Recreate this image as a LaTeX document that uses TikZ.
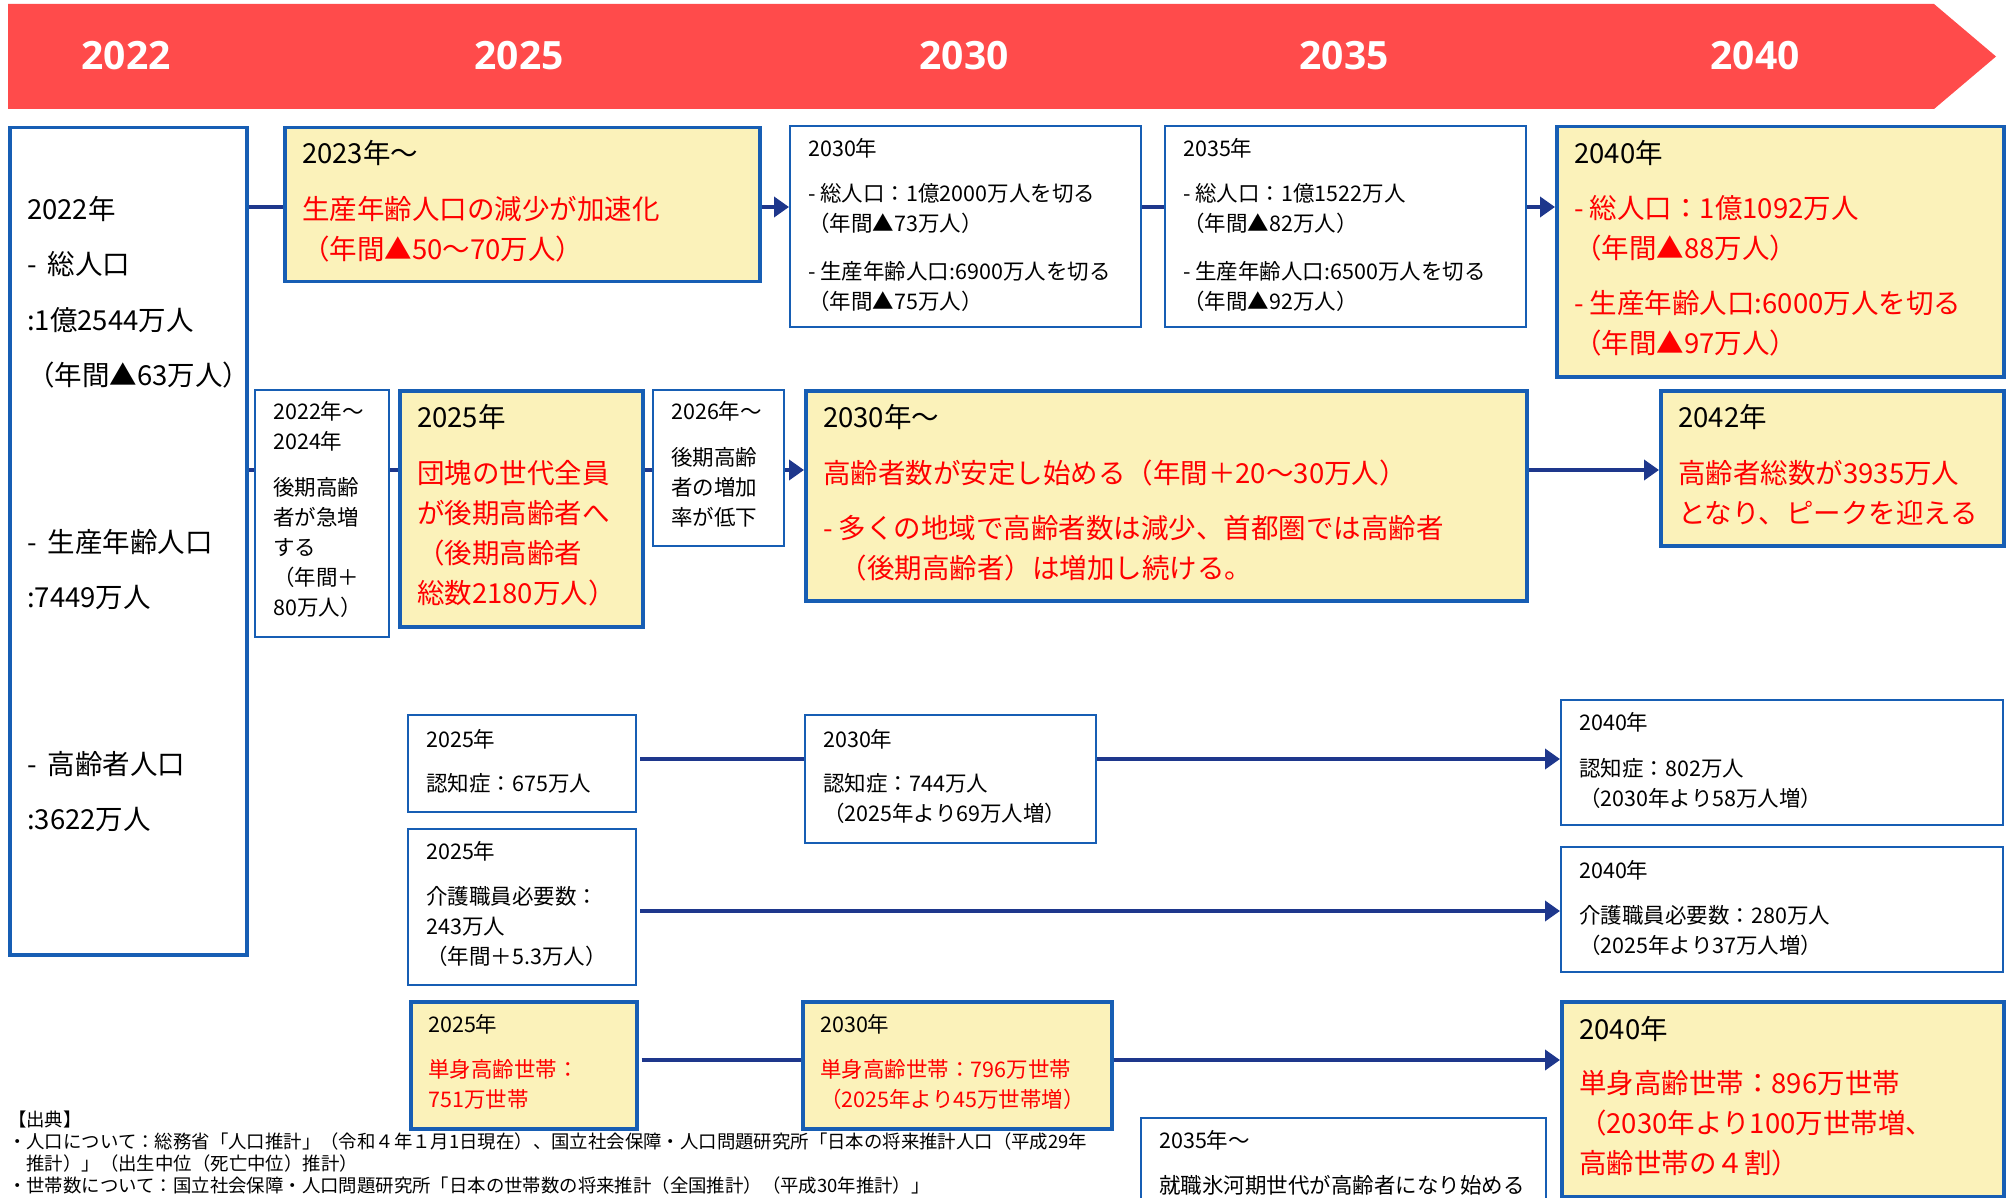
\documentclass[tikz,border=0pt]{standalone}
\usepackage{fontspec}
\setmainfont{Noto Sans CJK JP}
\newfontfamily\yrfont{Open Sans}
\usetikzlibrary{arrows.meta}
\definecolor{boxblue}{RGB}{23,94,180}
\definecolor{navy}{RGB}{30,55,140}
\definecolor{hdred}{RGB}{255,75,75}
\definecolor{ylw}{RGB}{251,242,186}
\definecolor{txtred}{RGB}{255,0,0}
\newcommand\smf{\fontsize{21.5}{30}\selectfont}
\newcommand\bgf{\fontsize{27.5}{40}\selectfont}
\begin{document}
\begin{tikzpicture}[x=1pt, y=-1pt,
	wbox/.style={draw=boxblue, line width=2pt, fill=white, inner sep=0pt, anchor=north west},
	ybox/.style={wbox, line width=3.5pt, fill=ylw},
	sm/.style={anchor=north west, inner sep=0pt, align=left, font=\smf},
	bg/.style={sm, font=\bgf},
	rd/.style={text=txtred},
	link/.style={draw=navy, line width=4pt},
	arr/.style={link, -{Triangle[length=15pt, width=20pt]}},
	year/.style={text=white, font=\yrfont\bfseries\fontsize{39}{39}\selectfont}]
\useasboundingbox (0,0) rectangle (2015,1198);
\clip (0,0) rectangle (2015,1198);

\fill[hdred] (8,4) -- (1934,4) -- (1996,56.5) -- (1934,109) -- (8,109) -- cycle;
\node[year] (y2022) at (126,56) {2022};
\node[year] (y2025) at (519,56) {2025};
\node[year] (y2030) at (964,56) {2030};
\node[year] (y2035) at (1344,56) {2035};
\node[year] (y2040) at (1755,56) {2040};

\node[wbox, line width=3.5pt, minimum width=237pt, minimum height=827pt] (b2022) at (8,126) {};
\node[ybox, minimum width=475pt, minimum height=154pt] (b2023) at (283,126) {};
\node[wbox, minimum width=351pt, minimum height=201pt] (b2030) at (789,125) {};
\node[wbox, minimum width=361pt, minimum height=201pt] (b2035) at (1164,125) {};
\node[ybox, minimum width=447pt, minimum height=250pt] (b2040) at (1555,125) {};
\node[wbox, minimum width=134pt, minimum height=247pt] (b2224) at (254,389) {};
\node[ybox, minimum width=243pt, minimum height=236pt] (b2025) at (398,389) {};
\node[wbox, minimum width=131pt, minimum height=156pt] (b2026) at (652,389) {};
\node[ybox, minimum width=721pt, minimum height=210pt] (b2030b) at (804,389) {};
\node[ybox, minimum width=343pt, minimum height=155pt] (b2042) at (1659,389) {};
\node[wbox, minimum width=228pt, minimum height=97pt] (d2025) at (407,714) {};
\node[wbox, minimum width=291pt, minimum height=128pt] (d2030) at (804,714) {};
\node[wbox, minimum width=442pt, minimum height=125pt] (d2040) at (1560,699) {};
\node[wbox, minimum width=228pt, minimum height=156pt] (k2025) at (407,828) {};
\node[wbox, minimum width=442pt, minimum height=125pt] (k2040) at (1560,846) {};
\node[ybox, minimum width=226pt, minimum height=127pt] (s2025) at (409,1000) {};
\node[ybox, minimum width=309pt, minimum height=127pt] (s2030) at (801,1000) {};
\node[ybox, minimum width=442pt, minimum height=195pt] (s2040) at (1560,1000) {};
\node[wbox, minimum width=405pt, minimum height=140pt] (h2035) at (1140,1117) {};

\node[sm, font=\fontsize{27.5}{55.5}\selectfont] (b2022-t) at ([shift={(19,70)}]b2022.north west)
	{2022年\\-\hspace{0.4em}総人口\\:1億2544万人\\（年間▲63万人）\\[111pt]-\hspace{0.4em}生産年齢人口\\:7449万人\\[111pt]-\hspace{0.4em}高齢者人口\\:3622万人};
\node[bg, rd] (b2023-t) at ([shift={(19,14)}]b2023.north west)
	{\textcolor{black}{2023年〜}\\[16pt]生産年齢人口の減少が加速化\\（年間▲50〜70万人）};
\node[sm] (b2030-t) at ([shift={(19,13)}]b2030.north west)
	{2030年\\[15pt]- 総人口：1億2000万人を切る\\（年間▲73万人）\\[18pt]- 生産年齢人口:6900万人を切る\\（年間▲75万人）};
\node[sm] (b2035-t) at ([shift={(19,13)}]b2035.north west)
	{2035年\\[15pt]- 総人口：1億1522万人\\（年間▲82万人）\\[18pt]- 生産年齢人口:6500万人を切る\\（年間▲92万人）};
\node[bg, rd] (b2040-t) at ([shift={(19,15)}]b2040.north west)
	{\textcolor{black}{2040年}\\[15pt]- 総人口：1億1092万人\\（年間▲88万人）\\[15pt]- 生産年齢人口:6000万人を切る\\（年間▲97万人）};
\node[sm] (b2224-t) at ([shift={(19,12)}]b2224.north west)
	{2022年〜\\2024年\\[16pt]後期高齢\\者が急増\\する\\（年間＋\\80万人）};
\node[bg, rd] (b2025-t) at ([shift={(19,15)}]b2025.north west)
	{\textcolor{black}{2025年}\\[16pt]団塊の世代全員\\が後期高齢者へ\\（後期高齢者\\総数2180万人）};
\node[sm] (b2026-t) at ([shift={(19,12)}]b2026.north west)
	{2026年〜\\[16pt]後期高齢\\者の増加\\率が低下};
\node[bg, rd] (b2030b-t) at ([shift={(19,15)}]b2030b.north west)
	{\textcolor{black}{2030年〜}\\[16pt]高齢者数が安定し始める（年間＋20〜30万人）\\[15pt]- 多くの地域で高齢者数は減少、首都圏では高齢者\\\hspace*{0.6em}（後期高齢者）は増加し続ける。};
\node[bg, rd] (b2042-t) at ([shift={(19,15)}]b2042.north west)
	{\textcolor{black}{2042年}\\[16pt]高齢者総数が3935万人\\となり、ピークを迎える};
\node[sm] (d2025-t) at ([shift={(19,15)}]d2025.north west)
	{2025年\\[14pt]認知症：675万人};
\node[sm] (d2030-t) at ([shift={(19,15)}]d2030.north west)
	{2030年\\[14pt]認知症：744万人\\（2025年より69万人増）};
\node[sm] (d2040-t) at ([shift={(19,13)}]d2040.north west)
	{2040年\\[16pt]認知症：802万人\\（2030年より58万人増）};
\node[sm] (k2025-t) at ([shift={(19,13)}]k2025.north west)
	{2025年\\[15pt]介護職員必要数：\\243万人\\（年間＋5.3万人）};
\node[sm] (k2040-t) at ([shift={(19,14)}]k2040.north west)
	{2040年\\[15pt]介護職員必要数：280万人\\（2025年より37万人増）};
\node[sm, rd] (s2025-t) at ([shift={(19,14)}]s2025.north west)
	{\textcolor{black}{2025年}\\[15pt]単身高齢世帯：\\751万世帯};
\node[sm, rd] (s2030-t) at ([shift={(19,14)}]s2030.north west)
	{\textcolor{black}{2030年}\\[15pt]単身高齢世帯：796万世帯\\（2025年より45万世帯増）};
\node[bg, rd] (s2040-t) at ([shift={(19,16)}]s2040.north west)
	{\textcolor{black}{2040年}\\[14pt]単身高齢世帯：896万世帯\\（2030年より100万世帯増、\\高齢世帯の４割）};
\node[sm] (h2035-t) at ([shift={(19,13)}]h2035.north west)
	{2035年〜\\[15pt]就職氷河期世代が高齢者になり始める};

\node[anchor=north west, inner sep=0pt, align=left, font=\fontsize{18.4}{22}\selectfont] (src) at (8,1111)
	{【出典】\\・人口について：総務省「人口推計」（令和４年１月1日現在）、国立社会保障・人口問題研究所「日本の将来推計人口（平成29年\\\hspace*{1em}推計）」（出生中位（死亡中位）推計）\\・世帯数について：国立社会保障・人口問題研究所「日本の世帯数の将来推計（全国推計）（平成30年推計）」};

\coordinate (r1) at (0,207);
\coordinate (r2) at (0,470);
\coordinate (r3) at (0,759);
\coordinate (r4) at (0,911);
\coordinate (r5) at (0,1060);
\draw[link] (b2022.east |- r1) -- (b2023.west |- r1);
\draw[arr] (b2023.east |- r1) -- (b2030.west |- r1);
\draw[link] (b2030.east |- r1) -- (b2035.west |- r1);
\draw[arr] (b2035.east |- r1) -- (b2040.west |- r1);
\draw[link] (b2022.east |- r2) -- (b2224.west |- r2);
\draw[link] (b2224.east |- r2) -- (b2025.west |- r2);
\draw[link] (b2025.east |- r2) -- (b2026.west |- r2);
\draw[arr] (b2026.east |- r2) -- (b2030b.west |- r2);
\draw[arr] (b2030b.east |- r2) -- (b2042.west |- r2);
\draw[link, shorten <=3pt] (d2025.east |- r3) -- (d2030.west |- r3);
\draw[arr] (d2030.east |- r3) -- (d2040.west |- r3);
\draw[arr, shorten <=3pt] (k2025.east |- r4) -- (k2040.west |- r4);
\draw[link, shorten <=3pt] (s2025.east |- r5) -- (s2030.west |- r5);
\draw[arr] (s2030.east |- r5) -- (s2040.west |- r5);
\end{tikzpicture}
\end{document}
